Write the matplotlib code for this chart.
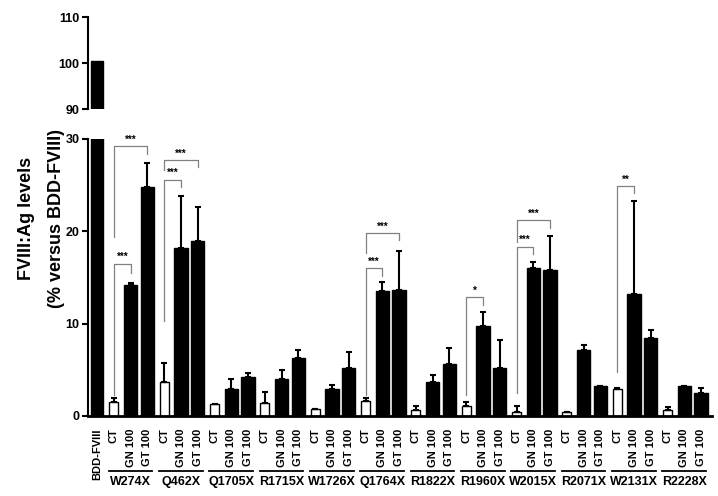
import numpy as np
import matplotlib.pyplot as plt

plt.rcParams['font.family'] = ['Liberation Sans', 'DejaVu Sans']
plt.rcParams['font.weight'] = 'bold'

# reference construct
bdd_label = "BDD-FVIII"
bdd_mean = 100.4

variants = ["W274X", "Q462X", "Q1705X", "R1715X", "W1726X", "Q1764X",
            "R1822X", "R1960X", "W2015X", "R2071X", "W2131X", "R2228X"]
treatments = ["CT", "GN 100", "GT 100"]

# mean values (% of BDD-FVIII) and upper SD for each treatment
ct_mean = [1.55, 3.65, 1.3, 1.37, 0.72, 1.59, 0.69, 1.08, 0.47, 0.4, 2.93, 0.6]
ct_err = [0.35, 2.05, 0.05, 1.26, 0.08, 0.33, 0.41, 0.44, 0.58, 0.05, 0.07, 0.34]
gn_mean = [14.2, 18.2, 2.96, 4.0, 2.96, 13.58, 3.72, 9.75, 16.07, 7.2, 13.2, 3.2]
gn_err = [0.25, 5.6, 1.0, 0.95, 0.44, 0.92, 0.76, 1.55, 0.63, 0.5, 10.1, 0.1]
gt_mean = [24.8, 18.95, 4.2, 6.3, 5.24, 13.65, 5.6, 5.24, 15.8, 3.2, 8.5, 2.5]
gt_err = [2.6, 3.65, 0.5, 0.85, 1.73, 4.25, 1.77, 2.96, 3.7, 0.1, 0.8, 0.5]

# significance brackets: (variant, treatment compared with CT, top, left leg end, right leg end, label)
brackets = [
    (0, 1, 16.5, 2.3, 15.5, "***"),
    (0, 2, 29.2, 19.4, 28.4, "***"),
    (1, 1, 25.6, 10.3, 24.8, "***"),
    (1, 2, 27.7, 26.6, 27.0, "***"),
    (5, 1, 16.0, 2.3, 15.2, "***"),
    (5, 2, 19.8, 17.6, 19.1, "***"),
    (7, 1, 12.85, 2.3, 12.0, "*"),
    (8, 1, 18.35, 2.5, 17.55, "***"),
    (8, 2, 21.2, 18.8, 20.4, "***"),
    (10, 1, 24.9, 4.8, 24.1, "**"),
]

fig = plt.figure(figsize=(7.18, 4.96), dpi=100)
ax_top = fig.add_axes([0.1226, 0.780, 0.869, 0.1855])
ax = fig.add_axes([0.1226, 0.1613, 0.869, 0.5585])

n = len(variants)
pos = {t: np.array([1 + 3 * g + i for g in range(n)]) for i, t in enumerate(treatments)}
means = {"CT": ct_mean, "GN 100": gn_mean, "GT 100": gt_mean}
errs = {"CT": ct_err, "GN 100": gn_err, "GT 100": gt_err}

for a in (ax_top, ax):
    a.bar(0, bdd_mean, width=0.76, color='black', edgecolor='black', linewidth=1)
    for t in treatments:
        if t == "CT":
            a.bar(pos[t], means[t], width=0.55, color='white', edgecolor='black', linewidth=1, zorder=2)
        else:
            a.bar(pos[t], means[t], width=0.79, color='black', edgecolor='black', linewidth=1, zorder=2)
        a.errorbar(pos[t], means[t], yerr=[np.zeros(n), errs[t]], fmt='none', ecolor='black',
                   elinewidth=1.5, capsize=2, capthick=1.5, zorder=3)
    a.set_xlim(-0.54, 36.65)
    for s in ('top', 'right'):
        a.spines[s].set_visible(False)
    a.spines['left'].set_linewidth(1.5)
    a.tick_params(axis='y', length=4, width=1.5, labelsize=9, pad=2)

ax_top.set_ylim(90, 110)
ax_top.set_yticks([90, 100, 110])
ax_top.spines['bottom'].set_visible(False)
ax_top.set_xticks([])

ax.set_ylim(0, 30)
ax.set_yticks([0, 10, 20, 30])
ax.spines['bottom'].set_linewidth(2)

# x tick labels
ticks = [0] + [1 + i for i in range(3 * n)]
labels = [bdd_label] + treatments * n
ax.set_xticks(ticks)
ax.set_xticklabels(labels, rotation=90, fontsize=8, fontweight='bold')
ax.tick_params(axis='x', length=0, pad=9)

# group underlines and names
trans = ax.get_xaxis_transform()
for g, name in enumerate(variants):
    x0 = 1 + 3 * g
    ax.plot([x0 - 0.3, x0 + 2.3], [-0.197, -0.197], color='black', lw=1.3,
            transform=trans, clip_on=False)
    ax.text(x0 + 1, -0.238, name, transform=trans, ha='center', va='center',
            fontsize=9, fontweight='bold')

# significance brackets
for g, t, top, lb, rb, lab in brackets:
    xl = 1 + 3 * g
    xr = xl + t
    ax.plot([xl, xl, xr, xr], [lb, top, top, rb], color='#808080', lw=0.9, clip_on=False, zorder=4)
    ax.text((xl + xr) / 2, top + 0.15, lab, ha='center', va='bottom', fontsize=7,
            fontweight='bold', clip_on=False)

fig.text(0.0376, 0.56, "FVIII:Ag levels", rotation=90, ha='center', va='center',
         fontsize=13, fontweight='bold')
fig.text(0.078, 0.56, "(% versus BDD-FVIII)", rotation=90, ha='center', va='center',
         fontsize=13, fontweight='bold')

fig.savefig('out.png', dpi=100)
